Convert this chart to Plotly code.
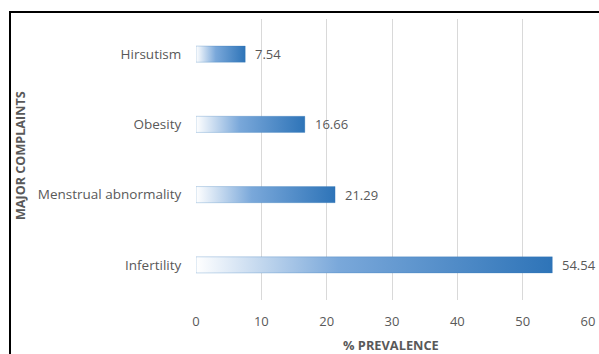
import plotly.graph_objects as go

# Major complaints and their prevalence (%)
complaints = ["Infertility", "Menstrual abnormality", "Obesity", "Hirsutism"]
prevalence = [54.54, 21.29, 16.66, 7.54]
x_ticks = [0, 10, 20, 30, 40, 50, 60]

BAR_HALF = 0.115
TEXT_GREY = "#595959"
FONT = "Open Sans"

fig = go.Figure()

# Each bar is a filled polygon so it can carry a white-to-blue horizontal gradient
for i, (name, val) in enumerate(zip(complaints, prevalence)):
    fig.add_trace(go.Scatter(
        x=[0, val, val, 0, 0],
        y=[i - BAR_HALF, i - BAR_HALF, i + BAR_HALF, i + BAR_HALF, i - BAR_HALF],
        mode="lines",
        line=dict(color="rgba(46,117,182,0.35)", width=0.8),
        fill="toself",
        fillgradient=dict(
            type="horizontal",
            colorscale=[[0, "#FFFFFF"], [0.4, "#7AA8DA"], [1, "#2E74B8"]],
        ),
        hoverinfo="skip",
        showlegend=False,
        name=name,
    ))
    fig.add_annotation(
        x=val, y=i, text=f"{val:.2f}", showarrow=False,
        xanchor="left", xshift=8,
        font=dict(family=FONT, size=13, color=TEXT_GREY),
    )

fig.update_layout(
    width=599, height=354,
    margin=dict(l=196, r=11, t=19, b=54),
    paper_bgcolor="white", plot_bgcolor="white",
    font=dict(family=FONT, size=13, color=TEXT_GREY),
    xaxis=dict(
        range=[0, 60], tickvals=x_ticks, showgrid=True,
        gridcolor="#D9D9D9", gridwidth=1, zeroline=False,
        showline=False, ticks="outside", ticklen=9,
        tickcolor="rgba(0,0,0,0)", automargin=False,
        tickfont=dict(family=FONT, size=13, color=TEXT_GREY),
    ),
    yaxis=dict(
        range=[-0.5, 3.5], tickvals=list(range(len(complaints))),
        ticktext=complaints, showgrid=False, zeroline=False,
        showline=False, ticks="outside", ticklen=11,
        tickcolor="rgba(0,0,0,0)", automargin=False,
        tickfont=dict(family=FONT, size=13.5, color=TEXT_GREY),
    ),
    showlegend=False,
)

# Axis titles
fig.add_annotation(
    xref="paper", yref="paper", x=(391 - 196) / 392, y=-45 / 281,
    xanchor="center", yanchor="middle",
    text="<b>% PREVALENCE</b>", showarrow=False,
    font=dict(family=FONT, size=12.8, color=TEXT_GREY),
)
fig.add_annotation(
    xref="paper", yref="paper", x=(20 - 196) / 392, y=(300 - 156) / 281,
    xanchor="center", yanchor="middle", textangle=-90,
    text="<b>MAJOR COMPLAINTS</b>", showarrow=False,
    font=dict(family=FONT, size=12.6, color=TEXT_GREY),
)

# Outer frame: dark rule along the top and left of the chart area
fig.add_shape(
    type="rect", xref="paper", yref="paper",
    x0=(10 - 196) / 392, x1=(605 - 196) / 392,
    y0=-0.3, y1=1 + (19 - 12) / 281,
    line=dict(color="black", width=2), fillcolor="rgba(0,0,0,0)",
    layer="above",
)

fig.write_html("out.html")
